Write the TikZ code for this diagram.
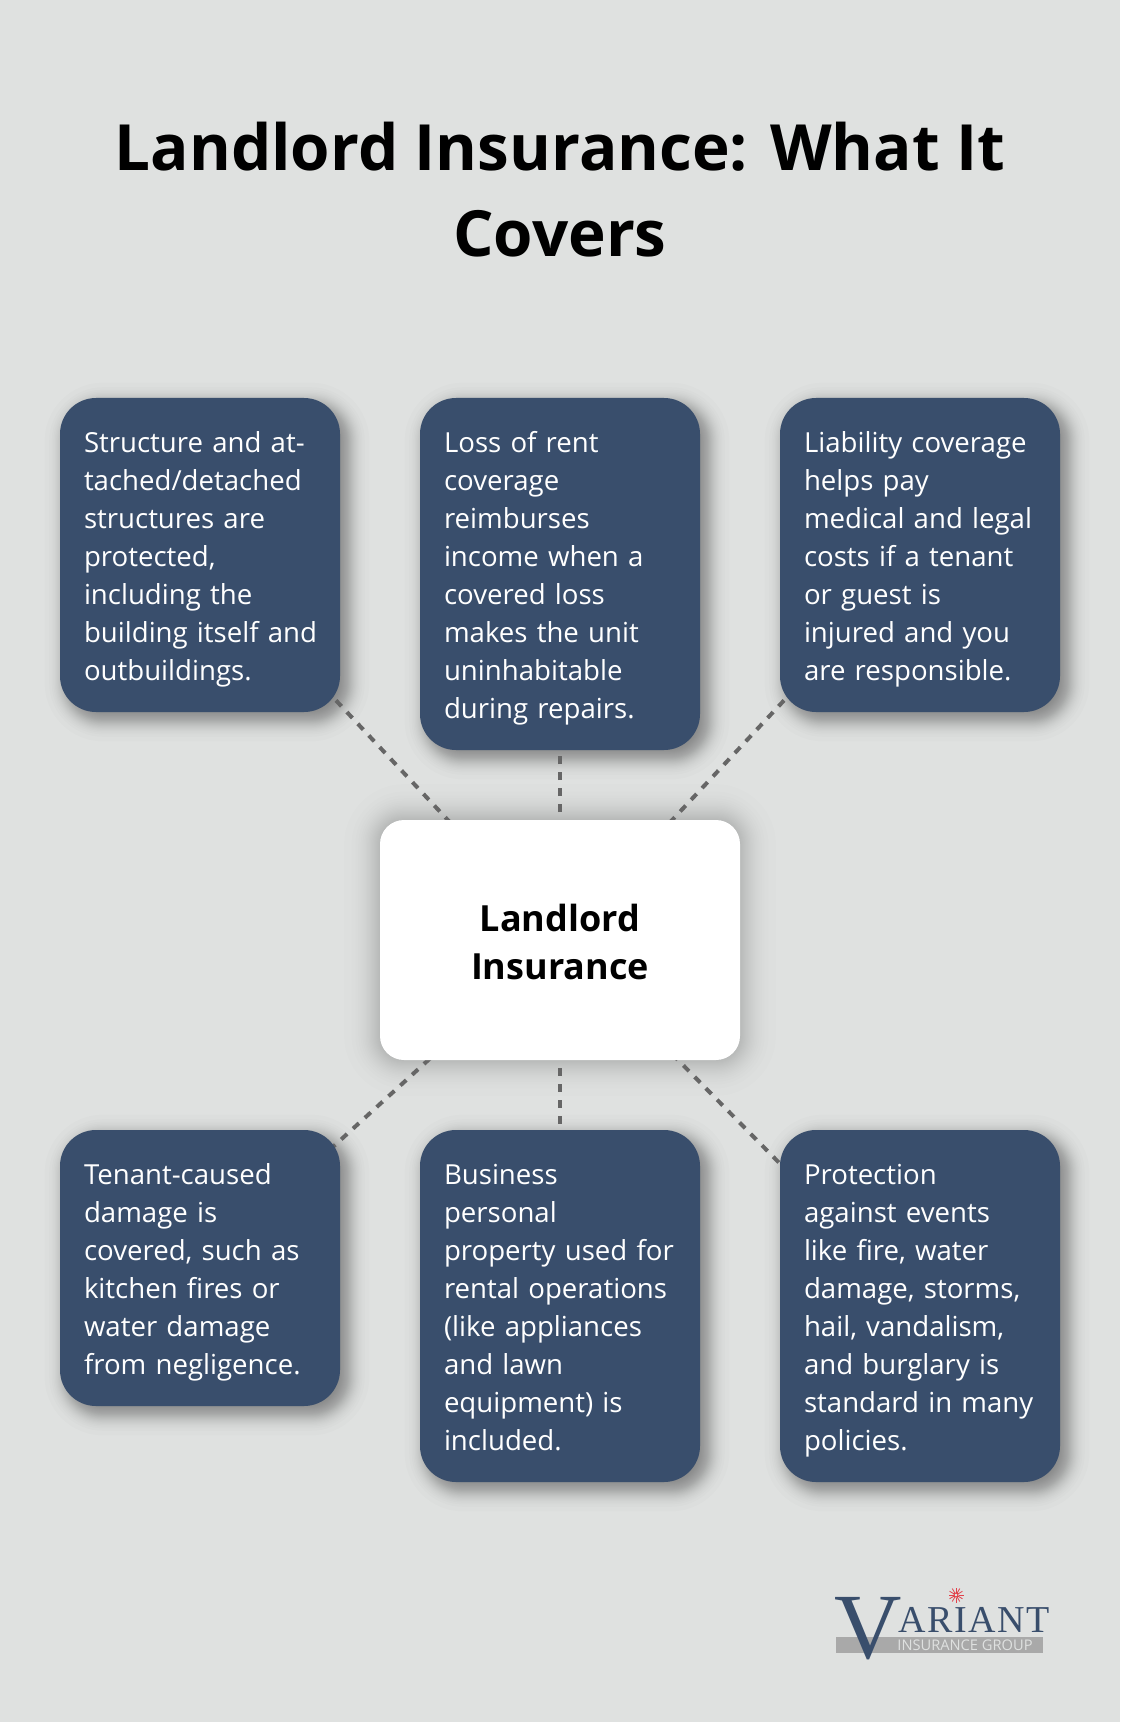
\documentclass[tikz,border=0pt]{standalone}
\usepackage{fontspec}
\setmainfont{Open Sans}
\newfontfamily\logofont{Liberation Serif}
\newfontfamily\logowide[LetterSpace=4]{Liberation Serif}
\usetikzlibrary{positioning,backgrounds}
\definecolor{pagegrey}{HTML}{DFE1E0}
\definecolor{boxblue}{HTML}{394E6C}
\definecolor{linkgrey}{HTML}{666666}
\definecolor{bargrey}{HTML}{A9A9A9}
\definecolor{sparkred}{HTML}{E2404A}
\newcommand{\firstline}{\rule{0pt}{23.1pt}}
\newcommand{\lastline}{\rule[-5.4pt]{0pt}{5.4pt}}
\tikzset{
    card/.style={anchor=north west, fill=boxblue, text=white, rounded corners=27pt,
        text width=174pt, inner sep=18pt, outer sep=0pt, align=left,
        font=\fontsize{20.7}{28.5}\selectfont,
        execute at begin node=\firstline, execute at end node=\lastline},
    hub/.style={fill=white, text=black, rounded corners=18pt, minimum width=270pt,
        minimum height=180pt, outer sep=0pt, align=center,
        font=\fontsize{27}{36}\selectfont\bfseries},
    link/.style={draw=linkgrey, line width=3pt, dash pattern=on 6pt off 6pt},
}
\begin{document}
\begin{tikzpicture}[x=.75pt, y=-.75pt]
    \useasboundingbox (0,0) rectangle (1120,1722);
    \node [align=center, font=\fontsize{47.8}{64.5}\selectfont\bfseries] (title) at (560,190)
        {Landlord Insurance: What It\\Covers};
    \node [card] (struct) at (60,398)
        {Structure and at-\\tached/detached\\structures are\\protected,\\including the\\\mbox{building itself and}\\outbuildings.};
    \node [card, right=60pt of struct.north east, anchor=north west] (rent)
        {Loss of rent\\coverage\\reimburses\\income when a\\covered loss\\makes the unit\\uninhabitable\\during repairs.};
    \node [card, right=60pt of rent.north east, anchor=north west] (liab)
        {Liability coverage\\helps pay\\medical and legal\\costs if a tenant\\or guest is\\injured and you\\are responsible.};
    \node [hub, below=52.5pt of rent.south, anchor=north] (cent) {\rule{0pt}{23pt}Landlord\\Insurance};
    \node [card, below=52.5pt of cent.south, anchor=north] (prop)
        {Business\\personal\\property used for\\rental operations\\(like appliances\\and lawn\\equipment) is\\included.};
    \node [card, left=60pt of prop.north west, anchor=north east] (tenant)
        {Tenant-caused\\damage is\\covered, such as\\kitchen fires or\\water damage\\from negligence.};
    \node [card, right=60pt of prop.north east, anchor=north west] (perils)
        {Protection\\against events\\like fire, water\\damage, storms,\\hail, vandalism,\\and burglary is\\standard in many\\policies.};
    % logo
    \node [fill=bargrey, minimum width=155.25pt, minimum height=12pt, inner sep=0pt] (bar) at (939.5,1645) {};
    \node [inner sep=0pt, text=pagegrey, font=\fontsize{11}{12}\selectfont] (group) at (965,1645.5) {INSURANCE GROUP};
    \node [inner sep=0pt, text=boxblue, font=\logofont\fontsize{70}{70}\selectfont] (bigv) at (868.5,1629) {V};
    \node [inner sep=0pt, text=boxblue, font=\logowide\fontsize{28.5}{30}\selectfont] (ariant) at (974,1620) {ARIANT};
    \coordinate (spark) at (956,1595);
    \foreach \a in {0,30,...,330}
        \draw [sparkred, line width=.6pt] (spark) ++(\a:2.5) -- ++(\a:5);
    \draw [sparkred, line width=.8pt] (spark) circle (2);
    \begin{scope}[on background layer]
        \fill [pagegrey] (0,0) rectangle (1120,1722);
        % soft shadows, gaussian steps
        \foreach \n/\r/\o/\s/\op in {struct/36/7/10/.0105,rent/36/7/10/.0105,liab/36/7/10/.0105,tenant/36/7/10/.0105,prop/36/7/10/.0105,perils/36/7/10/.0105,cent/24/0/16/.007}
            \foreach \z in {2.24,1.78,1.54,1.36,1.21,1.09,.98,.89,.80,.71,.64,.56,.49,.42,.35,.29,.22,.16,.09,.03,-.03,-.09,-.16,-.22,-.29,-.35,-.42,-.49,-.56,-.64,-.71,-.80,-.89,-.98,-1.09,-1.21,-1.36,-1.54,-1.78,-2.24} {
                \pgfmathsetmacro{\g}{\z*\s}
                \pgfmathsetmacro{\rr}{max(\r+\g,1)*.75}
                \fill [black, opacity=\op, rounded corners=\rr pt]
                    ([shift={(-\g+\o,\g+\o)}]\n.south west) rectangle ([shift={(\g+\o,-\g+\o)}]\n.north east);
            }
        \foreach \n in {struct,rent,liab,tenant,prop,perils}
            \draw [link] (cent.center) -- (\n.center);
    \end{scope}
\end{tikzpicture}
\end{document}
